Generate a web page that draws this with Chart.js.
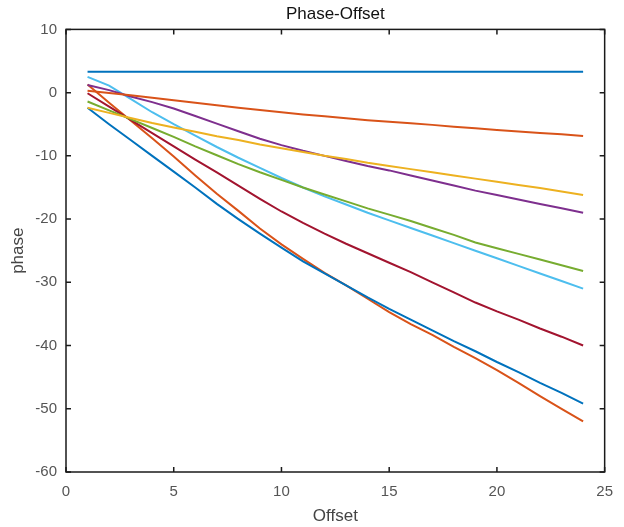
<!DOCTYPE html>
<html>
<head>
<meta charset="utf-8">
<script src="https://cdn.jsdelivr.net/npm/chart.js@4/dist/chart.umd.min.js"></script>
<style>
  html, body { margin: 0; padding: 0; background: #fff; }
  #box { width: 624px; height: 527px; }
</style>
</head>
<body>
<div id="box"><canvas id="myChart"></canvas></div>
<script>
"use strict"
// Werte
const offsets = [1, 2, 3, 4, 5, 6, 7, 8, 9, 10, 11, 12, 13, 14, 15, 16, 17, 18, 19, 20, 21, 22, 23, 24];
const phase1 = [3.3, 3.3, 3.3, 3.3, 3.3, 3.3, 3.3, 3.3, 3.3, 3.3, 3.3, 3.3, 3.3, 3.3, 3.3, 3.3, 3.3, 3.3, 3.3, 3.3, 3.3, 3.3, 3.3, 3.3];
const phase2 = [0.3, -0.05, -0.4, -0.8, -1.2, -1.6, -2.0, -2.4, -2.75, -3.1, -3.45, -3.75, -4.05, -4.35, -4.6, -4.85, -5.1, -5.4, -5.65, -5.9, -6.15, -6.4, -6.6, -6.85];
const phase3 = [-2.4, -3.2, -4.0, -4.8, -5.5, -6.2, -6.9, -7.5, -8.2, -8.8, -9.4, -10.0, -10.5, -11.1, -11.6, -12.1, -12.6, -13.1, -13.6, -14.1, -14.6, -15.1, -15.65, -16.2];
const phase4 = [1.2, 0.4, -0.6, -1.5, -2.5, -3.7, -4.9, -6.1, -7.3, -8.3, -9.2, -10.0, -10.8, -11.6, -12.3, -13.1, -13.9, -14.7, -15.5, -16.2, -16.9, -17.6, -18.3, -19.0];
const phase5 = [-1.4, -2.8, -4.2, -5.6, -7.0, -8.5, -9.9, -11.3, -12.6, -13.8, -15.0, -16.1, -17.2, -18.3, -19.3, -20.3, -21.4, -22.5, -23.7, -24.6, -25.5, -26.4, -27.3, -28.2];
const phase6 = [2.5, 1.1, -1.0, -3.1, -5.0, -6.8, -8.6, -10.3, -11.9, -13.5, -15.0, -16.4, -17.7, -19.0, -20.2, -21.4, -22.6, -23.8, -25.0, -26.2, -27.4, -28.6, -29.8, -31.0];
const phase7 = [-0.1, -2.2, -4.3, -6.4, -8.5, -10.6, -12.6, -14.7, -16.8, -18.8, -20.6, -22.3, -23.9, -25.4, -26.9, -28.4, -30.0, -31.6, -33.2, -34.6, -35.9, -37.3, -38.6, -40.0];
const phase8 = [-2.4, -5.0, -7.5, -10.0, -12.5, -15.0, -17.6, -20.0, -22.3, -24.5, -26.7, -28.6, -30.5, -32.4, -34.2, -35.9, -37.6, -39.3, -40.9, -42.6, -44.2, -45.9, -47.5, -49.2];
const phase9 = [1.3, -1.6, -4.4, -7.2, -10.1, -13.1, -16.0, -18.7, -21.5, -24.0, -26.3, -28.5, -30.5, -32.6, -34.7, -36.6, -38.3, -40.2, -42.0, -43.9, -45.9, -48.0, -50.0, -52.0];
const xTicks = [0, 5, 10, 15, 20, 25];
const yTicks = [-60, -50, -40, -30, -20, -10, 0, 10];

const allSeries = [phase1, phase2, phase3, phase4, phase5, phase6, phase7, phase8, phase9];
// MATLAB Standardfarben
const colors = ['#0072BD', '#D95319', '#EDB120', '#7E2F8E', '#77AC30', '#4DBEEE', '#A2142F', '#0072BD', '#D95319'];

const datasets = allSeries.map((s, i) => ({
    data: s.map((v, k) => ({ x: offsets[k], y: v })),
    borderColor: colors[i],
    borderWidth: 2,
    pointRadius: 0,
    tension: 0,
    fill: false
}));

// Rahmen mit Ticks nach innen (wie in MATLAB)
const boxPlugin = {
    id: 'boxPlugin',
    afterDraw(chart) {
        const { ctx, chartArea: a, scales } = chart;
        const len = 5;
        ctx.save();
        ctx.strokeStyle = '#1a1a1a';
        ctx.lineWidth = 1.5;
        ctx.strokeRect(a.left, a.top, a.right - a.left, a.bottom - a.top);
        ctx.beginPath();
        xTicks.forEach(t => {
            const px = scales.x.getPixelForValue(t);
            ctx.moveTo(px, a.bottom); ctx.lineTo(px, a.bottom - len);
            ctx.moveTo(px, a.top); ctx.lineTo(px, a.top + len);
        });
        yTicks.forEach(t => {
            const py = scales.y.getPixelForValue(t);
            ctx.moveTo(a.left, py); ctx.lineTo(a.left + len, py);
            ctx.moveTo(a.right, py); ctx.lineTo(a.right - len, py);
        });
        ctx.stroke();
        ctx.restore();
    }
};

const fam = 'Liberation Sans, Arial, sans-serif';
const tickFont = { family: fam, size: 15 };

const config = {
    type: 'line',
    data: { datasets: datasets },
    options: {
        responsive: false,
        animation: false,
        layout: { padding: { left: 0, right: 18, top: 0, bottom: 0 } },
        plugins: {
            legend: { display: false },
            tooltip: { enabled: false },
            title: {
                display: true,
                text: 'Phase-Offset',
                fullSize: false,
                color: '#111',
                font: { family: fam, size: 17, weight: 'normal' },
                padding: { top: 4, bottom: 5 }
            }
        },
        scales: {
            x: {
                type: 'linear',
                min: 0,
                max: 25,
                afterBuildTicks: (scale) => { scale.ticks = xTicks.map(v => ({ value: v })); },
                afterFit: (scale) => { scale.height = 55; },
                grid: { display: false, drawTicks: false },
                border: { display: false },
                ticks: { color: '#555', font: tickFont, padding: 11, maxRotation: 0 },
                title: {
                    display: true, text: 'Offset', color: '#444',
                    font: { family: fam, size: 17 },
                    padding: { top: 0, bottom: 0 }
                }
            },
            y: {
                type: 'linear',
                min: -60,
                max: 10,
                afterBuildTicks: (scale) => { scale.ticks = yTicks.map(v => ({ value: v })); },
                afterFit: (scale) => { scale.width = 66; },
                grid: { display: false, drawTicks: false },
                border: { display: false },
                ticks: { color: '#555', font: tickFont, padding: 9 },
                title: {
                    display: true, text: 'phase', color: '#444',
                    font: { family: fam, size: 17 },
                    padding: { top: 8, bottom: 0 }
                }
            }
        }
    },
    plugins: [boxPlugin]
};

const canvas = document.getElementById('myChart');
canvas.width = 624;
canvas.height = 527;
new Chart(canvas, config);
</script>
</body>
</html>
